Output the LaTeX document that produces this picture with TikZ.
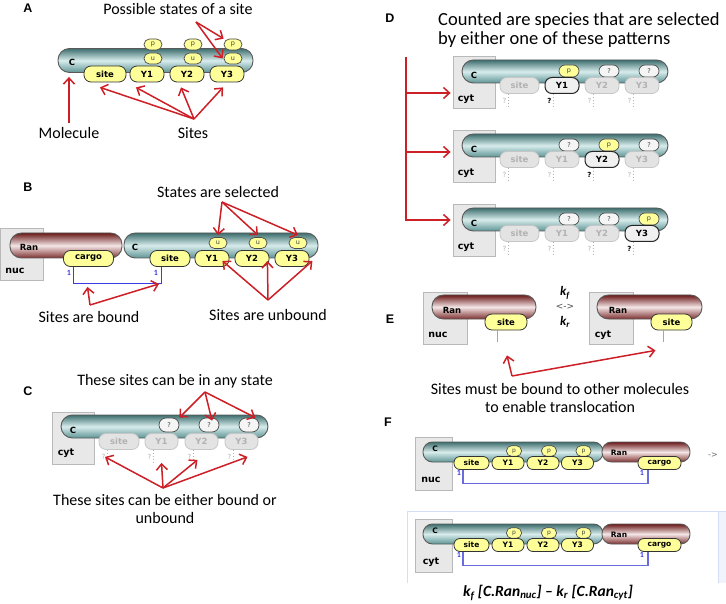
\documentclass[tikz,border=0pt]{standalone}
\usepackage{fontspec}
\setmainfont{Carlito}
\newfontfamily\molfont{DejaVu Sans}
\newfontfamily\tagfont{Liberation Sans}
\usepackage{tikz}
\usetikzlibrary{arrows.meta}
\usepackage{xcolor}

\definecolor{cdark}{HTML}{3E6E6E}
\definecolor{clight}{HTML}{D8ECEC}
\definecolor{cmid}{HTML}{5E9494}
\definecolor{rdark}{HTML}{6A1A1A}
\definecolor{rlight}{HTML}{F4E6E6}
\definecolor{rmid}{HTML}{7E3030}
\definecolor{sitey}{HTML}{FFFF99}
\definecolor{arrred}{HTML}{CC1F26}
\definecolor{bondblue}{HTML}{3A3AE6}
\definecolor{fblue}{HTML}{6B6BE0}
\definecolor{panelblue}{HTML}{D5DDF7}
\definecolor{compfill}{HTML}{E8E8E8}

\tikzset{
	cbar/.style={draw=black!65, line width=0.9pt, inner sep=0pt, rounded corners=11.5pt,
		top color=cdark, bottom color=cmid, middle color=clight},
	rbar/.style={cbar, top color=rdark, bottom color=rmid, middle color=rlight},
	ysite/.style={draw=black!80, fill=sitey, line width=0.8pt, inner sep=0pt,
		rounded corners=7pt, minimum height=16pt, font=\molfont\bfseries\fontsize{8.5}{9}\selectfont},
	gsite/.style={ysite, draw=gray!45, fill=gray!22, text=gray!60},
	ksite/.style={ysite, draw=black!85, fill=gray!12, line width=1pt},
	fsite/.style={ysite, rounded corners=6pt, minimum height=13pt, font=\molfont\bfseries\fontsize{7.5}{8}\selectfont},
	stbox/.style={draw=black!70, fill=sitey, line width=0.7pt, inner sep=0pt, rounded corners=5.5pt,
		minimum width=18pt, minimum height=11pt, text=black!75, font=\molfont\fontsize{6.5}{7}\selectfont},
	qstate/.style={stbox, fill=gray!8},
	fstate/.style={stbox, minimum width=15pt, rounded corners=5pt, minimum height=10.5pt, font=\molfont\fontsize{6}{6}\selectfont},
	comp/.style={draw=gray!55, fill=compfill, line width=0.8pt, inner sep=0pt},
	stub/.style={draw=gray!60, line width=0.8pt, dash pattern=on 1.5pt off 1.5pt},
	stubline/.style={draw=gray!70, line width=1pt},
	qmark/.style={inner sep=0pt, text=gray!60, font=\molfont\fontsize{7}{7}\selectfont},
	kmark/.style={qmark, text=black, font=\molfont\bfseries\fontsize{7}{7}\selectfont},
	mlabel/.style={inner sep=0pt, font=\molfont\bfseries\fontsize{8.5}{9}\selectfont},
	cmplabel/.style={inner sep=0pt, font=\molfont\bfseries\fontsize{9.5}{10}\selectfont},
	bond/.style={draw=bondblue, line width=1pt},
	fbond/.style={draw=fblue, line width=1.2pt},
	bnum/.style={inner sep=0pt, text=bondblue, font=\bfseries\fontsize{8}{8}\selectfont},
	captxt/.style={inner sep=1pt, font=\fontsize{16}{18.5}\selectfont},
	rate/.style={inner sep=0pt, font=\bfseries\itshape\fontsize{13}{14}\selectfont},
	ptag/.style={inner sep=0pt, font=\tagfont\bfseries\fontsize{12.5}{13}\selectfont},
	rarr/.style={draw=arrred, line width=1.5pt, -{Straight Barb[length=6pt,width=11pt]}},
}

\begin{document}
\begin{tikzpicture}[x=1pt,y=-1pt]
	\useasboundingbox (0,0) rectangle (726,604);

	\node[ptag] (A-tag) at (28,8) {A};
	\node[captxt] (A-poss) at (178,9) {Possible states of a site};
	\node[cbar, minimum width=195, minimum height=24] (A-C) at (155.5,60.5) {};
	\node[mlabel] (A-Clbl) at (72,62) {C};
	\node[ysite, minimum width=42] (A-site) at (105,74) {site};
	\foreach \n/\x in {Y1/147,Y2/187,Y3/227}{
		\node[stbox] (A-\n-p) at (\x+6,44.5) {p};
		\node[stbox] (A-\n-u) at (\x+6,58.5) {u};
		\node[ysite, minimum width=34] (A-\n) at (\x,74) {\n};
	}
	\node[captxt] (A-mol) at (69,133) {Molecule};
	\node[captxt] (A-sites) at (193,133) {Sites};
	\coordinate (A-so) at (194,119);
	\coordinate (A-po) at (196,22);
	\draw[rarr] ([yshift=3]A-mol.north) -- ([yshift=-4]A-mol.north |- A-C.south);
	\foreach \n/\dx in {site/-5,Y1/-11,Y2/-6,Y3/-4}
		\draw[rarr] (A-so) -- ([shift={(\dx,5)}]A-\n.south);
	\draw[rarr] (A-po) -- (A-Y3-p.north west);
	\draw[rarr] (A-po) -- ([xshift=-1]A-Y3-u.west);

	\node[ptag] (B-tag) at (28,187) {B};
	\node[captxt] (B-sel) at (218,192) {States are selected};
	\node[comp, minimum width=43, minimum height=52] (B-nuc) at (21.5,254) {};
	\node[cmplabel] (B-nuclbl) at (15,271) {nuc};
	\node[rbar, minimum width=112, minimum height=25] (B-Ran) at (66,245.5) {};
	\node[mlabel] (B-Ranlbl) at (29,247) {Ran};
	\node[cbar, minimum width=194, minimum height=25] (B-C) at (221,245.5) {};
	\node[mlabel] (B-Clbl) at (135,247) {C};
	\node[ysite, minimum width=50] (B-cargo) at (88.5,258.5) {cargo};
	\node[ysite, minimum width=40] (B-site) at (170,258.5) {site};
	\foreach \n/\x in {Y1/212,Y2/252,Y3/292}{
		\node[stbox] (B-\n-u) at (\x+6,243) {u};
		\node[ysite, minimum width=34] (B-\n) at (\x,258.5) {\n};
	}
	\coordinate (B-b1) at ([xshift=-15]B-cargo.south);
	\coordinate (B-b2) at ([xshift=-9]B-site.south);
	\draw[bond] (B-b1) -- ++(0,17) coordinate (B-bl) -| (B-b2);
	\coordinate (B-br) at (B-bl -| B-b2);
	\node[bnum] (B-n1) at (69,273) {1};
	\node[bnum] (B-n2) at (156,273) {1};
	\node[captxt] (B-bnd) at (89,317) {Sites are bound};
	\node[captxt] (B-ubd) at (268,315) {Sites are unbound};
	\coordinate (B-so) at (222,202);
	\coordinate (B-bo) at (90,305);
	\coordinate (B-uo) at (268,300);
	\foreach \n in {Y1,Y2,Y3}
		\draw[rarr] (B-so) -- ([yshift=2]B-\n-u.north);
	\draw[rarr] (B-bo) -- ([shift={(14,3)}]B-bl);
	\draw[rarr] (B-bo) -- ([xshift=-2]B-br);
	\foreach \n/\dx in {Y1/-7,Y2/-2,Y3/3}
		\draw[rarr] (B-uo) -- ([shift={(\dx,-6)}]B-\n.south east);

	\node[ptag] (C-tag) at (28,391) {C};
	\node[captxt] (C-any) at (175,381) {These sites can be in any state};
	\node[comp, minimum width=42, minimum height=52] (C-cyt) at (73,438) {};
	\node[cmplabel] (C-cytlbl) at (66,453) {cyt};
	\node[cbar, minimum width=207, minimum height=23] (C-C) at (164.5,426.5) {};
	\node[mlabel] (C-Clbl) at (73,430) {C};
	\node[gsite, minimum width=40] (C-site) at (119,441.5) {site};
	\foreach \n/\x in {Y1/161.5,Y2/201.5,Y3/241.5}{
		\node[qstate, minimum width=20, minimum height=14, rounded corners=7] (C-\n-q) at (\x+7.5,425) {?};
		\node[gsite, minimum width=33] (C-\n) at (\x,441.5) {\n};
	}
	\foreach \n in {site,Y1,Y2,Y3}{
		\draw[stub] ([xshift=9]C-\n.south west) -- ++(0,13);
		\node[qmark] (C-\n-m) at ([shift={(5,7)}]C-\n.south west) {?};
	}
	\node[captxt, align=center] (C-bnd) at (165,509) {These sites can be either bound or\\unbound};
	\coordinate (C-to) at (205,392);
	\coordinate (C-bo) at (163,488);
	\draw[rarr] (C-to) -- (C-Y1-q.north east);
	\draw[rarr] (C-to) -- ([shift={(3,3)}]C-Y2-q.north);
	\draw[rarr] (C-to) -- ([xshift=-4]C-Y3-q.north east);
	\foreach \n/\dx/\dy in {site/-14/7,Y1/0/13,Y2/-4/10,Y3/6/7}
		\draw[rarr] (C-bo) -- ([shift={(\dx,\dy)}]C-\n.south);

	\node[ptag] (D-tag) at (390,18) {D};
	\node[captxt, anchor=west, align=left, font=\fontsize{18.5}{19}\selectfont] (D-cnt) at (437,30.5) {Counted are species that are selected\\by either one of these patterns};
	\coordinate (D-top) at (406,57);
	\foreach \k/\dy/\ay in {1/0/11,2/74/-4,3/148/-10}{
		\node[comp, minimum width=42, minimum height=52] (D\k-cyt) at (474,82+\dy) {};
		\node[cmplabel] (D\k-cytlbl) at (466,99+\dy) {cyt};
		\node[cbar, minimum width=206, minimum height=23] (D\k-C) at (565,71.5+\dy) {};
		\node[mlabel] (D\k-Clbl) at (474,75+\dy) {C};
		\node[gsite, minimum width=39] (D\k-site) at (519.5,85.5+\dy) {site};
		\draw[stub] ([xshift=9]D\k-site.south west) -- ++(0,13);
		\node[qmark] (D\k-site-m) at ([shift={(5,7)}]D\k-site.south west) {?};
		\foreach \i/\x in {1/562,2/602,3/642}{
			\ifnum\i=\k
				\tikzset{dsite/.style={ksite}, dstate/.style={stbox}, dmark/.style={kmark}}\def\statetxt{p}
			\else
				\tikzset{dsite/.style={gsite}, dstate/.style={qstate}, dmark/.style={qmark}}\def\statetxt{?}
			\fi
			\node[dstate, minimum width=20, minimum height=12, rounded corners=6] (D\k-Y\i-q) at (\x+7,71+\dy) {\statetxt};
			\node[dsite, minimum width=34] (D\k-Y\i) at (\x,85.5+\dy) {Y\i};
			\draw[stub] ([xshift=9]D\k-Y\i.south west) -- ++(0,13);
			\node[dmark] (D\k-Y\i-m) at ([shift={(5,7)}]D\k-Y\i.south west) {?};
		}
		\draw[rarr] (D-top) |- ([shift={(-2,\ay)}]D\k-cyt.west);
	}

	\node[ptag] (E-tag) at (390,319) {E};
	\node[comp, minimum width=44, minimum height=52] (E-nuc) at (445,318) {};
	\node[cmplabel] (E-nuclbl) at (438,335) {nuc};
	\node[rbar, minimum width=104, minimum height=24] (E-Ran1) at (484,307) {};
	\node[mlabel] (E-Ranlbl1) at (452,310) {Ran};
	\node[ysite, minimum width=42] (E-site1) at (506,322) {site};
	\draw[stubline] ([xshift=-9]E-site1.south) -- ++(0,12);
	\node[comp, minimum width=44, minimum height=52] (E-cyt) at (611,318) {};
	\node[cmplabel] (E-cytlbl) at (603,335) {cyt};
	\node[rbar, minimum width=105, minimum height=24] (E-Ran2) at (649.5,307) {};
	\node[mlabel] (E-Ranlbl2) at (618,310) {Ran};
	\node[ysite, minimum width=41] (E-site2) at (671.5,322) {site};
	\draw[stubline] ([xshift=-8.5]E-site2.south) -- ++(0,12);
	\node[rate] (E-kf) at (565,293) {k\textsubscript{f}};
	\node[inner sep=0pt, text=black!70, font=\molfont\fontsize{9}{9}\selectfont] (E-rev) at (565,307) {<->};
	\node[rate] (E-kr) at (565,322) {k\textsubscript{r}};
	\node[captxt, align=center] (E-txt) at (560,398) {Sites must be bound to other molecules\\to enable translocation};
	\coordinate (E-o) at (512,376);
	\draw[rarr] (E-o) -- ([shift={(1,25)}]E-site1.south);
	\draw[rarr] (E-o) -- ([shift={(-16,20)}]E-site2.south);

	\node[ptag] (F-tag) at (388,422) {F};
	\fill[panelblue!35] (718,511) rectangle (726,583);
	\draw[panelblue, line width=1pt] (726,511) -- (407,511) -- (407,583);
	\draw[panelblue, line width=1pt] (718,511) -- (718,583);
	\foreach \r/\dy/\cmp in {1/0/nuc,2/82/cyt}{
		\node[comp, minimum width=37, minimum height=53] (F\r-comp) at (433.5,463.5+\dy) {};
		\node[cmplabel] (F\r-cmplbl) at (431,480+\dy) {\cmp};
		\node[cbar, minimum width=180, minimum height=20, rounded corners=9.5] (F\r-C) at (513,452+\dy) {};
		\node[rbar, minimum width=88, minimum height=20, rounded corners=9.5] (F\r-Ran) at (646,452+\dy) {};
		\node[mlabel, font=\molfont\bfseries\fontsize{7.5}{8}\selectfont] (F\r-Clbl) at (435,449+\dy) {C};
		\node[mlabel, font=\molfont\bfseries\fontsize{7.5}{8}\selectfont] (F\r-Ranlbl) at (619,453+\dy) {Ran};
		\node[fsite, minimum width=35] (F\r-site) at (471.5,463+\dy) {site};
		\foreach \n/\x in {Y1/508,Y2/543,Y3/577.5}{
			\node[fstate] (F\r-\n-p) at (\x+6,451+\dy) {p};
			\node[fsite, minimum width=32] (F\r-\n) at (\x,463+\dy) {\n};
		}
		\node[fsite, minimum width=43] (F\r-cargo) at (659.5,463+\dy) {cargo};
		\draw[fbond] ([xshift=-8.5]F\r-site.south) -- ++(0,13.5) -| ([xshift=-11.5]F\r-cargo.south);
		\node[bnum] (F\r-n1) at (459,473+\dy) {1};
		\node[bnum] (F\r-n2) at (642,473+\dy) {1};
	}
	\node[inner sep=0pt, text=black!60, font=\molfont\fontsize{8}{8}\selectfont] (F-next) at (713,455) {->};
	\node[rate, font=\bfseries\itshape\fontsize{15.5}{16}\selectfont] (F-rate) at (548,593) {k\textsubscript{f} [C.Ran\textsubscript{nuc}] – k\textsubscript{r} [C.Ran\textsubscript{cyt}]};
\end{tikzpicture}
\end{document}
